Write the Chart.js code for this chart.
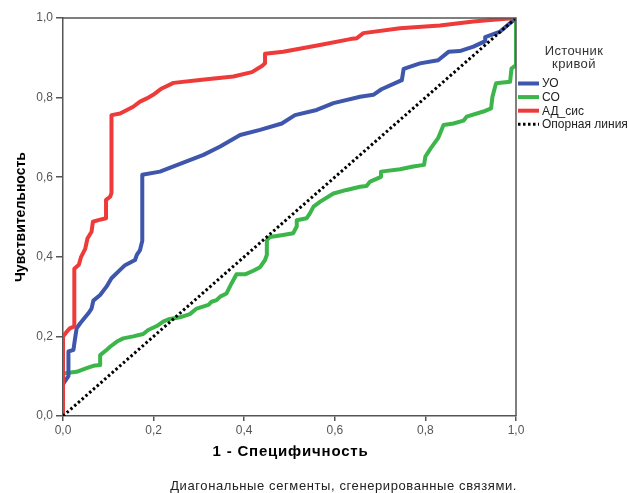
<!DOCTYPE html>
<html>
<head>
<meta charset="utf-8">
<script src="https://cdn.jsdelivr.net/npm/chart.js@4.4.1/dist/chart.umd.min.js"></script>
<style>
  html, body { margin: 0; padding: 0; background: #fff; }
  #wrap { width: 629px; height: 493px; position: relative; }
</style>
</head>
<body>
<div id="wrap"><canvas id="c" width="629" height="493"></canvas></div>
<script>
// ---- Data ----
const seriesNames = ['УО', 'СО', 'АД_сис', 'Опорная линия'];
const legendTitle = ['Источник', 'кривой'];
const xAxisTitle = '1 - Специфичность';
const yAxisTitle = 'Чувствительность';
const footnote = 'Диагональные сегменты, сгенерированные связями.';
const tickValues = [0, 0.2, 0.4, 0.6, 0.8, 1.0];

// УО (blue)
const uoX = [0, 0, 0.012, 0.012, 0.023, 0.026, 0.030, 0.038, 0.056, 0.063, 0.067, 0.082, 0.096, 0.107, 0.126, 0.137, 0.159, 0.163, 0.170, 0.175, 0.175, 0.214, 0.244, 0.310, 0.347, 0.391, 0.435, 0.483, 0.512, 0.560, 0.597, 0.656, 0.685, 0.703, 0.748, 0.752, 0.788, 0.828, 0.851, 0.876, 0.906, 0.932, 0.932, 0.965, 1];
const uoY = [0, 0.080, 0.100, 0.162, 0.166, 0.190, 0.220, 0.233, 0.258, 0.270, 0.290, 0.304, 0.325, 0.346, 0.367, 0.379, 0.392, 0.405, 0.417, 0.440, 0.606, 0.614, 0.627, 0.656, 0.677, 0.706, 0.719, 0.735, 0.756, 0.769, 0.786, 0.802, 0.807, 0.821, 0.844, 0.872, 0.886, 0.894, 0.915, 0.917, 0.928, 0.942, 0.952, 0.966, 1];

// СО (green)
const coX = [0, 0, 0.030, 0.052, 0.067, 0.082, 0.082, 0.096, 0.104, 0.119, 0.133, 0.155, 0.177, 0.188, 0.207, 0.221, 0.233, 0.258, 0.280, 0.295, 0.321, 0.328, 0.339, 0.347, 0.361, 0.372, 0.383, 0.402, 0.420, 0.435, 0.446, 0.450, 0.450, 0.457, 0.486, 0.508, 0.516, 0.516, 0.538, 0.545, 0.553, 0.567, 0.597, 0.626, 0.656, 0.670, 0.678, 0.702, 0.702, 0.744, 0.773, 0.797, 0.800, 0.812, 0.828, 0.840, 0.862, 0.884, 0.891, 0.928, 0.945, 0.948, 0.956, 0.987, 0.990, 0.998, 1, 1];
const coY = [0, 0.107, 0.111, 0.120, 0.126, 0.128, 0.153, 0.166, 0.174, 0.187, 0.195, 0.200, 0.206, 0.216, 0.226, 0.237, 0.243, 0.248, 0.256, 0.270, 0.279, 0.287, 0.291, 0.300, 0.308, 0.333, 0.356, 0.356, 0.365, 0.374, 0.392, 0.405, 0.442, 0.450, 0.455, 0.459, 0.476, 0.492, 0.497, 0.509, 0.526, 0.538, 0.559, 0.568, 0.576, 0.578, 0.589, 0.601, 0.614, 0.620, 0.627, 0.631, 0.652, 0.673, 0.698, 0.731, 0.735, 0.742, 0.752, 0.765, 0.773, 0.802, 0.836, 0.840, 0.873, 0.880, 0.880, 1];

// АД_сис (red)
const adX = [0, 0, 0.007, 0.015, 0.025, 0.025, 0.035, 0.040, 0.049, 0.054, 0.063, 0.066, 0.078, 0.095, 0.095, 0.104, 0.107, 0.107, 0.126, 0.155, 0.170, 0.185, 0.199, 0.218, 0.244, 0.302, 0.376, 0.417, 0.440, 0.446, 0.446, 0.486, 0.567, 0.634, 0.648, 0.663, 0.744, 0.832, 0.906, 0.943, 1];
const adY = [0, 0.200, 0.210, 0.220, 0.225, 0.370, 0.380, 0.400, 0.420, 0.446, 0.463, 0.488, 0.492, 0.497, 0.543, 0.551, 0.560, 0.756, 0.760, 0.777, 0.790, 0.798, 0.807, 0.823, 0.837, 0.844, 0.853, 0.864, 0.880, 0.886, 0.910, 0.915, 0.932, 0.947, 0.949, 0.962, 0.974, 0.981, 0.991, 0.995, 1];

// Reference line
const refX = [0, 1];
const refY = [0, 1];

const pts = (xs, ys) => xs.map((x, i) => ({ x: x, y: ys[i] }));
const fmt = v => Number(v).toFixed(1).replace('.', ',');

const FONT = "'Liberation Sans', Arial, sans-serif";

const framePlugin = {
  id: 'frame',
  afterDraw(chart) {
    const { ctx, chartArea: a } = chart;
    ctx.save();
    ctx.strokeStyle = '#555';
    ctx.lineWidth = 1.5;
    ctx.beginPath();
    ctx.moveTo(a.left, a.top);
    ctx.lineTo(a.right, a.top);
    ctx.lineTo(a.right, a.bottom);
    ctx.stroke();
    ctx.restore();
  }
};

const textPlugin = {
  id: 'customText',
  afterDraw(chart) {
    const { ctx, chartArea: a } = chart;
    ctx.save();
    // legend title
    ctx.fillStyle = '#333';
    ctx.textAlign = 'center';
    ctx.textBaseline = 'middle';
    ctx.font = '13px ' + FONT;
    ctx.letterSpacing = '0.4px';
    ctx.fillText(legendTitle[0], a.right + 58, 51);
    ctx.fillText(legendTitle[1], a.right + 58, 64.5);
    // legend items
    ctx.letterSpacing = '0px';
    ctx.font = '12px ' + FONT;
    ctx.textAlign = 'left';
    chart.data.datasets.forEach((ds, i) => {
      const y = 83.5 + i * 13.6;
      ctx.beginPath();
      ctx.strokeStyle = ds.borderColor;
      ctx.lineWidth = ds.borderDash && ds.borderDash.length ? 3 : 4;
      ctx.setLineDash(ds.borderDash || []);
      ctx.moveTo(a.right + 2, y);
      ctx.lineTo(a.right + 23, y);
      ctx.stroke();
      ctx.setLineDash([]);
      ctx.fillStyle = '#222';
      ctx.fillText(ds.label, a.right + 26, y + 0.5);
    });
    // x axis title
    ctx.textAlign = 'center';
    ctx.fillStyle = '#000';
    ctx.font = 'bold 15px ' + FONT;
    ctx.letterSpacing = '0.8px';
    ctx.fillText(xAxisTitle, (a.left + a.right) / 2 + 1, 452);
    // footnote
    ctx.font = '13px ' + FONT;
    ctx.letterSpacing = '0.6px';
    ctx.textAlign = 'right';
    ctx.fillStyle = '#222';
    ctx.fillText(footnote, a.right + 1, 486);
    ctx.restore();
  }
};

new Chart(document.getElementById('c'), {
  type: 'scatter',
  data: {
    datasets: [
      { label: seriesNames[0], data: pts(uoX, uoY), showLine: true, borderColor: '#3e56ab', borderWidth: 4, pointRadius: 0, order: 3, borderJoinStyle: 'round' },
      { label: seriesNames[1], data: pts(coX, coY), showLine: true, borderColor: '#3cb54a', borderWidth: 4, pointRadius: 0, order: 4, borderJoinStyle: 'round' },
      { label: seriesNames[2], data: pts(adX, adY), showLine: true, borderColor: '#ef3a3a', borderWidth: 4, pointRadius: 0, order: 2, borderJoinStyle: 'round' },
      { label: seriesNames[3], data: pts(refX, refY), showLine: true, borderColor: '#000', borderWidth: 3, borderDash: [2.5, 2.5], pointRadius: 0, order: 1 }
    ]
  },
  options: {
    responsive: false,
    animation: false,
    devicePixelRatio: 1,
    layout: { padding: { left: 0, right: 113, top: 18, bottom: 0 } },
    plugins: { legend: { display: false }, tooltip: { enabled: false } },
    scales: {
      x: {
        type: 'linear', min: 0, max: 1, position: 'bottom',
        afterBuildTicks: s => { s.ticks = tickValues.map(v => ({ value: v })); },
        afterFit: s => { s.height = 77; },
        ticks: { callback: fmt, color: '#555', font: { family: FONT, size: 12 }, padding: 2, maxRotation: 0, autoSkip: false },
        grid: { drawOnChartArea: false, drawTicks: true, tickLength: 5, color: '#555', lineWidth: 1.5 },
        border: { display: true, color: '#555', width: 1.5 },
        title: { display: false, text: xAxisTitle }
      },
      y: {
        type: 'linear', min: 0, max: 1, position: 'left',
        afterBuildTicks: s => { s.ticks = tickValues.map(v => ({ value: v })); },
        afterFit: s => { s.width = 63; },
        ticks: { callback: fmt, color: '#555', font: { family: FONT, size: 12 }, padding: 3, autoSkip: false },
        grid: { drawOnChartArea: false, drawTicks: true, tickLength: 7, color: '#555', lineWidth: 1.5 },
        border: { display: true, color: '#555', width: 1.5 },
        title: { display: true, text: yAxisTitle, color: '#000', font: { family: FONT, size: 14, weight: 'bold' }, padding: { top: 13, bottom: 0 } }
      }
    }
  },
  plugins: [framePlugin, textPlugin]
});
</script>
</body>
</html>
